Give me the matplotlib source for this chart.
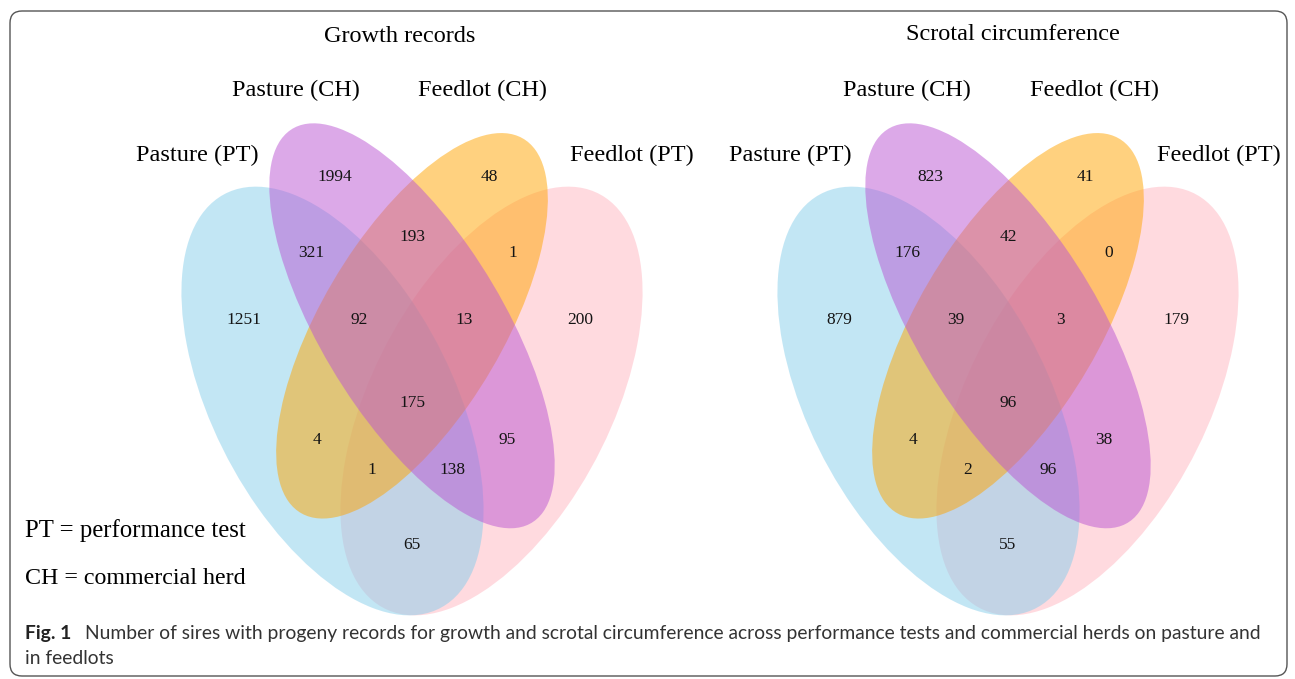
import matplotlib
matplotlib.use("Agg")
import matplotlib.pyplot as plt
from matplotlib.patches import Ellipse, FancyBboxPatch

# ---------------- data ----------------
set_names = ["Pasture (PT)", "Pasture (CH)", "Feedlot (CH)", "Feedlot (PT)"]
panel_titles = ["Growth records", "Scrotal circumference"]
# region order: A, B, C, D, AB, BC, CD, ABC, BCD, ABCD, AC, BD, ACD, ABD, AD
region_keys = ["A", "B", "C", "D", "AB", "BC", "CD", "ABC", "BCD", "ABCD",
               "AC", "BD", "ACD", "ABD", "AD"]
growth_counts = [1251, 1994, 48, 200, 321, 193, 1, 92, 13, 175, 4, 95, 1, 138, 65]
scrotal_counts = [879, 823, 41, 179, 176, 42, 0, 39, 3, 96, 4, 38, 2, 96, 55]
legend_lines = ["PT = performance test", "CH = commercial herd"]
caption_bold = "Fig. 1"
caption_text = ("Number of sires with progeny records for growth and scrotal circumference "
                "across performance tests and commercial herds on pasture and")
caption_text2 = "in feedlots"

# ---------------- layout (unit-square venn geometry) ----------------
W, H = 1295, 679
fig = plt.figure(figsize=(W / 100, H / 100), dpi=100)
bg = fig.add_axes([0, 0, 1, 1])
bg.set_xlim(0, W)
bg.set_ylim(H, 0)
bg.axis("off")

# ellipses: (cx, cy, semi-major, semi-minor, angle, color, alpha, zorder)
ell_specs = {
    "A": (0.35, 0.47, 0.35, 0.20, 135, "#87CEEB", 0.5, 2),
    "B": (0.50, 0.57, 0.35, 0.15, 135, "#BA55D3", 0.5, 4),
    "C": (0.50, 0.57, 0.33, 0.15, 45, "#FFA500", 0.5, 3),
    "D": (0.65, 0.47, 0.35, 0.20, 45, "#FFB6C1", 0.5, 1),
}
label_pos = {
    "A": (0.182, 0.578), "B": (0.354, 0.768), "C": (0.646, 0.768), "D": (0.818, 0.578),
    "AB": (0.310, 0.667), "BC": (0.500, 0.688), "CD": (0.690, 0.667),
    "ABC": (0.401, 0.578), "BCD": (0.599, 0.578), "ABCD": (0.500, 0.467),
    "AC": (0.320, 0.418), "BD": (0.680, 0.418), "ACD": (0.4245, 0.378),
    "ABD": (0.5755, 0.378), "AD": (0.500, 0.2785),
}

SX, SY, CY = 530.0, 752.0, 401.0
VBOT, VTOP = 0.1, 1.0
centers_x = [412.0, 1008.0]

serif = ["Liberation Serif", "DejaVu Serif"]


def venn(cx_px, counts):
    x0 = cx_px - 0.5 * SX
    ytop = CY - (VTOP - 0.47) * SY
    ybot = CY - (VBOT - 0.47) * SY
    ax = fig.add_axes([x0 / W, 1 - ybot / H, SX / W, (ybot - ytop) / H])
    ax.set_xlim(0, 1)
    ax.set_ylim(VBOT, VTOP)
    ax.axis("off")
    ax.patch.set_alpha(0)
    for k, (cx, cy, a, b, ang, col, al, z) in ell_specs.items():
        ax.add_patch(Ellipse((cx, cy), 2 * a, 2 * b, angle=ang, facecolor=col,
                             alpha=al, edgecolor="none", zorder=z))
    for key, val in zip(region_keys, counts):
        u, v = label_pos[key]
        ax.text(u, v, str(val), ha="center", va="center", fontsize=12.5,
                family=serif, color="#141414", zorder=10)
    return ax


for cxp, counts in zip(centers_x, [growth_counts, scrotal_counts]):
    venn(cxp, counts)

# titles and set labels (pixel coords)
title_xy = [(400, 36), (1013, 35)]
set_label_xy = [
    [(197, 155), (296, 90), (482, 90), (632, 155)],
    [(790, 155), (907, 90), (1094, 90), (1219, 155)],
]
for (tx, ty), pos, title in zip(title_xy, set_label_xy, panel_titles):
    bg.text(tx, ty, title, ha="center", va="center", fontsize=17.5, family=serif, color="black")
    for (x, y), name in zip(pos, set_names):
        bg.text(x, y, name, ha="center", va="center", fontsize=17.5,
                family=serif, color="black")

bg.text(25, 531, legend_lines[0], ha="left", va="center", fontsize=17.8, family=serif, color="black")
bg.text(25, 578, legend_lines[1], ha="left", va="center", fontsize=17.3, family=serif, color="black")

# caption
sans = ["Lato", "DejaVu Sans"]
bg.text(25, 634, caption_bold, ha="left", va="center", fontsize=13.9, family=sans,
        weight="bold", color="#222222")
bg.text(85, 634, caption_text, ha="left", va="center", fontsize=13.85, family=sans, color="#333333")
bg.text(25, 659, caption_text2, ha="left", va="center", fontsize=13.85, family=sans, color="#333333")

# rounded frame
frame = FancyBboxPatch((10, 11), 1277, 665, boxstyle="round,pad=0,rounding_size=12",
                       facecolor="none", edgecolor="#555555", lw=1.0, zorder=20)
bg.add_patch(frame)

fig.savefig("out.png", dpi=100)
